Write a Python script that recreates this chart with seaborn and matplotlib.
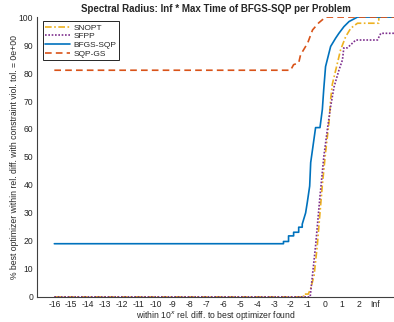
import pandas as pd
import matplotlib
matplotlib.use("Agg")
import matplotlib.pyplot as plt
import seaborn as sns

# x positions are tick slots: -16 .. 2 are log10 rel. diff, 3 stands for "Inf"
tick_pos = list(range(-16, 4))
tick_labels = [str(v) for v in range(-16, 3)] + ["Inf"]

snopt_x = [-16, -1.25, -1.25, -0.97, -0.83, -0.63, -0.44, -0.28, -0.14, 0.05, 0.25, 0.35, 0.45,
           0.65, 0.94, 1.24, 1.42, 1.54, 1.94, 3.2, 3.2, 4.1]
snopt_y = [0, 0, 1, 1, 3, 7.6, 18.3, 30, 40, 51.6, 62.2, 70.5, 76,
           81, 88.3, 93, 94.8, 96, 97.8, 97.8, 100, 100]

sfpp_x = [-16, -0.86, -0.54, -0.28, -0.24, -0.05, 0.16, 0.35, 0.55, 0.84, 1.05, 1.13, 1.34,
          1.84, 3.12, 3.32, 4.1]
sfpp_y = [0, 0, 18.3, 36, 38.4, 50.3, 60, 68, 75, 81, 84.7, 89, 89,
          91.8, 91.8, 94.2, 94.2]

bfgs_x = [-16, -2.44, -2.44, -2.14, -2.14, -1.84, -1.84, -1.54, -1.54, -1.33, -1.33, -1.13,
          -1.03, -0.89, -0.83, -0.54, -0.28, -0.14, -0.06, 0.05, 0.35, 0.65, 0.84, 1.14,
          1.44, 1.94, 4.1]
bfgs_y = [19, 19, 19.8, 19.8, 21.8, 21.8, 23.1, 23.1, 24.9, 24.9, 26, 30,
          33.8, 39.6, 48, 60.5, 60.5, 67, 74, 82.3, 89.5, 92.5, 94.2, 96.6,
          98.4, 100, 100]

sqpgs_x = [-16, -2.02, -1.84, -1.54, -1.43, -1.01, -0.72, -0.36, 0.05, 4.1]
sqpgs_y = [81, 81, 83, 83.6, 86.5, 90.7, 95.4, 97.9, 100, 100]

names = ["SNOPT", "SFPP", "BFGS-SQP", "SQP-GS"]
colors = ["#EDB120", "#7E2F8E", "#0072BD", "#D95319"]
dashes = [(4, 1.5, 1, 1.5), (1, 1), (None, None), (4, 2.5)]

sns.set_style("white")
plt.rcParams['font.family'] = ['Liberation Sans', 'DejaVu Sans']

fig = plt.figure(figsize=(3.94, 3.22), dpi=100)
ax = fig.add_axes([0.095, 0.078, 0.905, 0.869])

series = [(snopt_x, snopt_y), (sfpp_x, sfpp_y), (bfgs_x, bfgs_y), (sqpgs_x, sqpgs_y)]
for (xs, ys), name, col, ds in zip(series, names, colors, dashes):
    df = pd.DataFrame({"x": xs, "y": ys})
    line_ax = sns.lineplot(data=df, x="x", y="y", sort=False, estimator=None, color=col,
                           linewidth=1.2, label=name, ax=ax)
    ln = line_ax.get_lines()[-1]
    if ds[0] is not None:
        ln.set_dashes(ds)

ax.set_xlim(-17, 4.1)
ax.set_ylim(0, 100)
ax.set_xticks(tick_pos)
ax.set_xticklabels(tick_labels)
ax.set_yticks(range(0, 101, 10))
ax.tick_params(direction='in', length=3, width=0.8, labelsize=6.2, colors='#262626', pad=3)
ax.tick_params(axis='x', pad=2.5)
for s in ["top", "right"]:
    ax.spines[s].set_visible(False)
for s in ["left", "bottom"]:
    ax.spines[s].set_color('#404040')
    ax.spines[s].set_linewidth(0.8)

ax.set_title("Spectral Radius: Inf * Max Time of BFGS-SQP per Problem", fontsize=7,
             fontweight='bold', pad=4)
ax.set_xlabel("within 10$^x$ rel. diff. to best optimizer found", fontsize=6.2, labelpad=-0.5)
ax.set_ylabel("% best optimizer within rel. diff. with constraint viol. tol. = 0e+00",
              fontsize=6.2, labelpad=0)

leg = ax.legend(loc='upper left', bbox_to_anchor=(0.015, 0.985), fontsize=6,
                fancybox=False, edgecolor='#262626', framealpha=1, handlelength=3,
                borderpad=0.3, labelspacing=0.1, handletextpad=0.4, borderaxespad=0)
leg.get_frame().set_linewidth(0.7)

fig.savefig("out.png", dpi=100)
